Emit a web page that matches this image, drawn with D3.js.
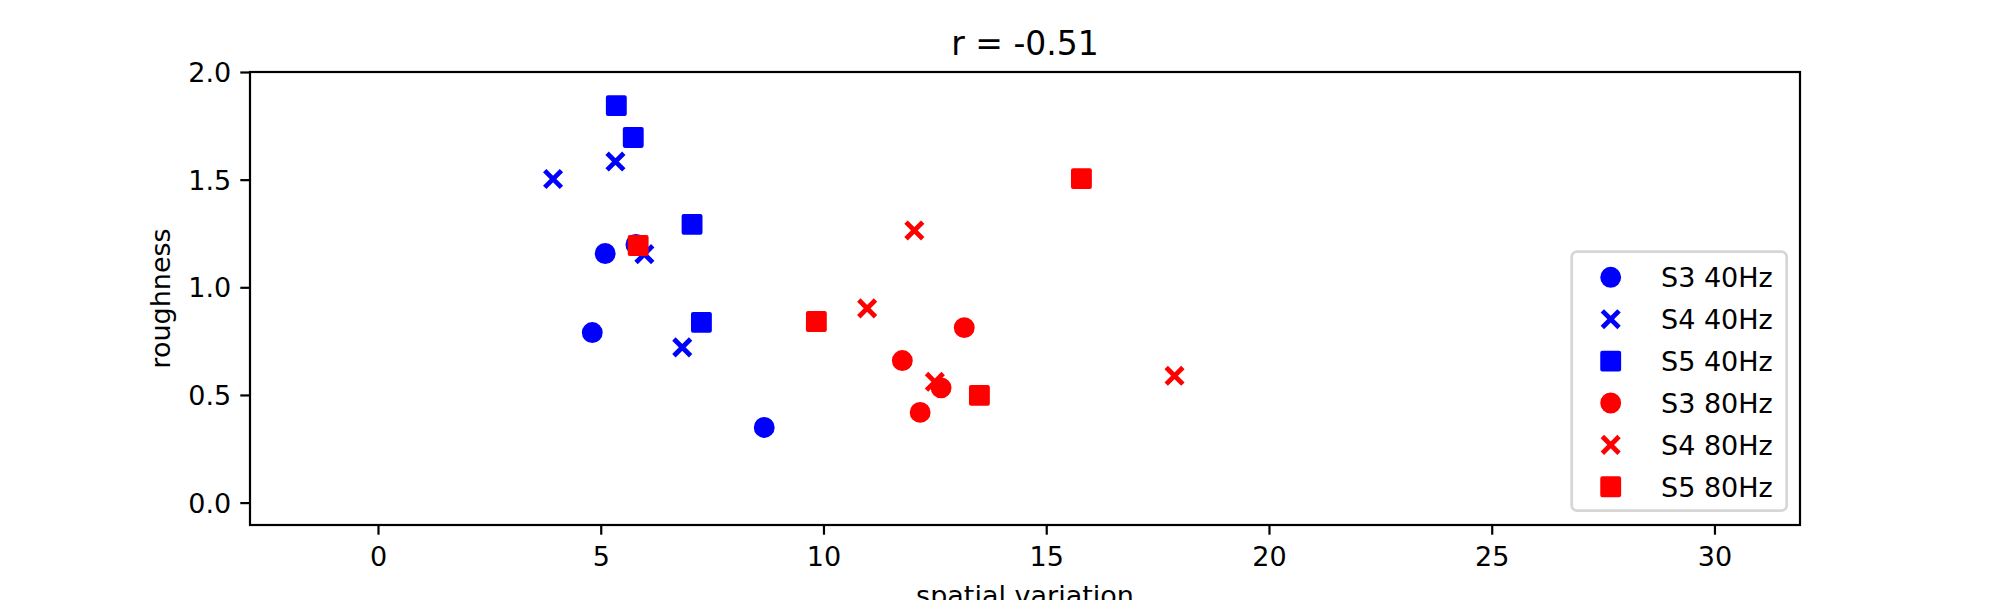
<!DOCTYPE html>
<html>
<head>
<meta charset="utf-8">
<script src="https://cdn.jsdelivr.net/npm/d3@7"></script>
<style>
  body { margin: 0; background: #fff; }
  svg { display: block; font-family: "DejaVu Sans", sans-serif; }
</style>
</head>
<body>
<svg id="chart" width="2000" height="600"></svg>
<script>
// series: [spatial variation, roughness]
const s3_40 = [[5.10, 1.157], [4.81, 0.790], [5.79, 1.199], [8.67, 0.349]];
const s4_40 = [[3.93, 1.503], [5.33, 1.584], [5.98, 1.154], [6.83, 0.721]];
const s5_40 = [[5.35, 1.844], [5.73, 1.696], [7.05, 1.292], [7.26, 0.837]];
const s3_80 = [[13.16, 0.813], [11.77, 0.660], [12.64, 0.533], [12.17, 0.419]];
const s4_80 = [[12.04, 1.264], [10.98, 0.902], [12.50, 0.561], [17.88, 0.589]];
const s5_80 = [[5.84, 1.194], [9.84, 0.841], [13.50, 0.498], [15.79, 1.505]];

const labels = ["S3 40Hz", "S4 40Hz", "S5 40Hz", "S3 80Hz", "S4 80Hz", "S5 80Hz"];
const shapes = ["circle", "x", "square", "circle", "x", "square"];
const colors = ["#0000ff", "#0000ff", "#0000ff", "#ff0000", "#ff0000", "#ff0000"];
const seriesData = [s3_40, s4_40, s5_40, s3_80, s4_80, s5_80];

const xTicks = [0, 5, 10, 15, 20, 25, 30];
const yTicks = [0.0, 0.5, 1.0, 1.5, 2.0];
const title = "r = -0.51";

const margin = {left: 250, right: 200, top: 72, bottom: 75};
const W = 2000, H = 600;
const svg = d3.select("#chart");

const x = d3.scaleLinear().domain([-2.873, 31.92]).range([margin.left, W - margin.right]);
const y = d3.scaleLinear().domain([-0.104, 2.0]).range([H - margin.bottom, margin.top]);

const msize = 16.7, mstroke = 4.17;

function drawMarker(g, shape, color) {
  const h = msize / 2;
  if (shape === "circle") {
    g.append("circle").attr("r", h).attr("fill", color)
      .attr("stroke", color).attr("stroke-width", mstroke);
  } else if (shape === "square") {
    g.append("rect").attr("x", -h).attr("y", -h).attr("width", msize).attr("height", msize)
      .attr("fill", color).attr("stroke", color).attr("stroke-width", mstroke)
      .attr("stroke-linejoin", "round");
  } else {
    // x marker is drawn a touch heavier, like the reference
    g.append("path").attr("d", `M${-h},${-h}L${h},${h}M${-h},${h}L${h},${-h}`)
      .attr("fill", "none").attr("stroke", color).attr("stroke-width", 4.8);
  }
}

// points
const plot = svg.append("g");
seriesData.forEach((data, i) => {
  plot.selectAll(null).data(data).enter().append("g")
    .attr("transform", d => `translate(${x(d[0])},${y(d[1])})`)
    .each(function() { drawMarker(d3.select(this), shapes[i], colors[i]); });
});

// axes
const xAxis = d3.axisBottom(x).tickValues(xTicks).tickFormat(d3.format("d"))
  .tickSizeInner(9.7).tickSizeOuter(0).tickPadding(9);
const yAxis = d3.axisLeft(y).tickValues(yTicks).tickFormat(d3.format(".1f"))
  .tickSizeInner(9.7).tickSizeOuter(0).tickPadding(9);

const gx = svg.append("g").attr("transform", `translate(0,${H - margin.bottom})`).call(xAxis);
const gy = svg.append("g").attr("transform", `translate(${margin.left},0)`).call(yAxis);
[gx, gy].forEach(g => {
  g.select(".domain").remove();
  g.selectAll(".tick line").attr("stroke", "#000").attr("stroke-width", 2.2);
  g.selectAll(".tick text").attr("fill", "#000").attr("font-size", 27)
    .attr("font-family", "DejaVu Sans");
});
gx.selectAll(".tick text").attr("dy", null).attr("y", 41);
gy.selectAll(".tick text").attr("dy", "0.35em");

// frame
svg.append("rect")
  .attr("x", margin.left).attr("y", margin.top)
  .attr("width", W - margin.left - margin.right)
  .attr("height", H - margin.top - margin.bottom)
  .attr("fill", "none").attr("stroke", "#000").attr("stroke-width", 2.2);

// title and labels
svg.append("text").attr("x", (margin.left + W - margin.right) / 2).attr("y", 55)
  .attr("text-anchor", "middle").attr("font-size", 33).text(title);
svg.append("text").attr("x", (margin.left + W - margin.right) / 2).attr("y", 605)
  .attr("text-anchor", "middle").attr("font-size", 27).text("spatial variation");
svg.append("text")
  .attr("transform", `translate(170,${(margin.top + H - margin.bottom) / 2}) rotate(-90)`)
  .attr("text-anchor", "middle").attr("font-size", 27).text("roughness");

// legend
const lg = svg.append("g");
lg.append("rect").attr("x", 1571.7).attr("y", 251.7).attr("width", 215).attr("height", 259)
  .attr("rx", 5.5).attr("fill", "#fff").attr("fill-opacity", 0.8)
  .attr("stroke", "#d6d6d6").attr("stroke-width", 2.8);
const rows = lg.selectAll(".row").data(labels).enter().append("g")
  .attr("transform", (d, i) => `translate(1610.7,${277.3 + i * 41.9})`);
rows.each(function(d, i) { drawMarker(d3.select(this), shapes[i], colors[i]); });
rows.append("text").attr("x", 50.3).attr("y", 9.8).attr("font-size", 27).text(d => d);
</script>
</body>
</html>
